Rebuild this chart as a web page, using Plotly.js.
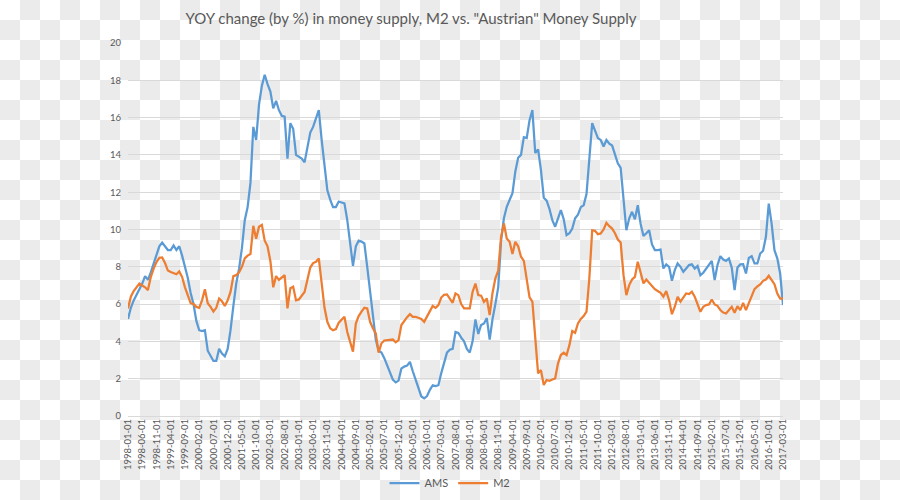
<!DOCTYPE html>
<html>
<head>
<meta charset="utf-8">
<script src="https://cdn.plot.ly/plotly-3.0.1.min.js"></script>
<style>
  html, body { margin: 0; padding: 0; }
  body {
    width: 900px; height: 500px;
    background-color: #ffffff;
    background-image: conic-gradient(#ebebeb 0deg 90deg, #ffffff 90deg 180deg, #ebebeb 180deg 270deg, #ffffff 270deg 360deg);
    background-size: 40px 40px;
    background-position: 0 0;
  }
  #chart { width: 900px; height: 500px; }
</style>
</head>
<body>
<div id="chart"></div>
<script>
// Monthly categories from 1998-01 to 2017-03
const startYear = 1998, startMonth = 1, monthCount = 231;
const tickStep = 5;

const ams = [
  5.2, 5.8, 6.2, 6.5, 6.8, 7.1, 7.5, 7.3, 7.7, 8.2,
  8.7, 9.1, 9.3, 9.1, 8.9, 8.9, 9.15, 8.9, 9.1, 8.6,
  8.0, 7.4, 6.6, 6.0, 5.1, 4.6, 4.55, 4.6, 3.5, 3.2,
  2.95, 2.95, 3.6, 3.35, 3.2, 3.6, 4.6, 5.9, 7.1, 7.9,
  9.0, 10.5, 11.2, 12.5, 15.5, 14.8, 16.7, 17.7, 18.3, 17.8,
  17.4, 16.5, 16.9, 16.4, 16.1, 16.05, 13.8, 15.7, 15.4, 14.0,
  13.9, 13.8, 13.6, 14.4, 15.2, 15.5, 15.95, 16.4, 14.8, 13.3,
  12.1, 11.6, 11.2, 11.2, 11.5, 11.45, 11.4, 10.5, 9.3, 8.05,
  9.1, 9.4, 9.35, 9.25, 8.0, 6.8, 5.3, 4.1, 3.5, 3.4,
  3.1, 2.7, 2.4, 1.95, 1.8, 1.9, 2.55, 2.65, 2.7, 2.9,
  2.4, 1.95, 1.5, 1.05, 0.95, 1.07, 1.4, 1.65, 1.6, 1.65,
  2.3, 2.9, 3.4, 3.55, 3.6, 4.5, 4.45, 4.2, 4.0, 3.6,
  3.4, 4.0, 5.18, 4.4, 4.88, 4.96, 5.25, 4.1, 5.2, 6.0,
  6.9, 9.4, 10.6, 11.22, 11.6, 11.95, 13.1, 13.85, 14.0, 14.95,
  14.9, 15.86, 16.4, 14.1, 14.3, 13.2, 11.7, 11.55, 11.1, 10.5,
  10.15, 10.6, 11.04, 10.55, 9.7, 9.8, 10.05, 10.6, 10.8, 11.2,
  11.3, 11.9, 14.0, 15.7, 15.3, 14.9, 14.8, 14.45, 14.8, 14.6,
  14.5, 14.0, 13.55, 13.3, 11.4, 9.96, 10.6, 10.95, 10.55, 11.3,
  10.3, 9.65, 9.8, 9.96, 9.2, 8.9, 8.9, 8.93, 7.91, 8.13,
  8.0, 7.25, 7.82, 8.18, 8.0, 7.73, 7.91, 8.09, 8.13, 7.91,
  8.04, 7.55, 7.68, 7.91, 8.1, 8.32, 7.29, 8.09, 8.57, 8.39,
  8.32, 8.45, 7.96, 6.75, 7.96, 8.13, 8.14, 7.64, 8.48, 8.57,
  8.18, 8.18, 8.71, 8.86, 9.61, 11.39, 10.32, 8.89, 8.45, 7.64,
  5.95
];

const m2 = [
  5.77, 6.4, 6.7, 6.9, 7.1, 7.0, 6.9, 6.75, 7.45, 7.9,
  8.25, 8.48, 8.5, 8.2, 7.8, 7.72, 7.65, 7.6, 7.75, 7.45,
  6.9, 6.5, 6.05, 6.0, 5.85, 5.8, 6.2, 6.8, 6.05, 5.85,
  5.6, 5.8, 6.3, 6.15, 5.9, 6.2, 6.65, 7.5, 7.55, 7.7,
  8.0, 8.45, 8.6, 8.68, 10.2, 9.5, 10.15, 10.25, 9.4, 9.1,
  8.3, 6.9, 7.5, 7.3, 7.45, 7.55, 5.77, 6.85, 6.93, 6.2,
  6.25, 6.43, 6.65, 7.3, 7.96, 8.2, 8.27, 8.45, 7.1, 5.8,
  5.05, 4.7, 4.6, 4.66, 5.0, 5.15, 5.32, 4.5, 4.0, 3.45,
  4.96, 5.36, 5.6, 5.8, 5.77, 5.05, 4.7, 4.43, 3.4, 3.9,
  4.05, 4.07, 4.07, 4.1, 3.95, 4.07, 4.88, 5.1, 5.3, 5.46,
  5.32, 5.32, 5.28, 5.2, 5.05, 5.32, 5.6, 5.9, 5.8, 5.95,
  6.35, 6.5, 6.52, 6.3, 6.07, 6.57, 6.48, 6.0, 5.77, 5.77,
  5.77, 6.66, 7.1, 6.48, 6.45, 6.12, 6.3, 5.41, 6.6, 7.38,
  7.79, 9.6, 10.32, 9.52, 9.34, 8.68, 9.34, 9.1, 8.54, 8.32,
  7.38, 6.36, 6.13, 4.07, 2.29, 2.46, 1.66, 1.93, 1.89, 1.96,
  2.02, 2.82, 3.27, 3.39, 3.27, 3.8, 4.55, 4.46, 4.96, 5.2,
  5.36, 5.6, 7.4, 9.96, 9.93, 9.75, 9.79, 10.0, 10.36, 10.18,
  10.05, 9.8, 9.46, 9.3, 7.55, 6.48, 7.02, 7.32, 7.46, 8.27,
  7.73, 7.11, 7.32, 7.14, 7.02, 6.8, 6.7, 6.6, 6.4, 6.7,
  6.21, 5.46, 5.86, 6.39, 6.13, 6.34, 6.57, 6.54, 6.66, 6.4,
  6.04, 5.59, 5.86, 5.95, 5.98, 6.25, 5.98, 5.91, 5.68, 5.55,
  5.5, 5.71, 5.86, 5.54, 5.89, 5.68, 6.07, 5.68, 6.07, 6.4,
  6.8, 6.95, 7.05, 7.25, 7.32, 7.52, 7.29, 7.07, 6.57, 6.3,
  6.3
];

const categories = [];
for (let k = 0; k < monthCount; k++) {
  const mIdx = (startMonth - 1) + k;
  const y = startYear + Math.floor(mIdx / 12);
  const m = (mIdx % 12) + 1;
  categories.push(y + '-' + String(m).padStart(2, '0') + '-01');
}
const tickLabels = categories.filter((c, k) => k % tickStep === 0);

const FONT = 'Lato, "Open Sans", sans-serif';
const TXT = '#595959';

const traces = [
  { x: categories, y: ams, type: 'scatter', mode: 'lines', name: 'AMS',
    line: { color: '#5b9bd5', width: 2.25 } },
  { x: categories, y: m2, type: 'scatter', mode: 'lines', name: 'M2',
    line: { color: '#ed7d31', width: 2.25 } }
];

const layout = {
  width: 900, height: 500,
  paper_bgcolor: 'rgba(0,0,0,0)',
  plot_bgcolor: 'rgba(0,0,0,0)',
  margin: { l: 128, r: 117, t: 43, b: 84 },
  font: { family: FONT, color: TXT },
  title: {
    text: 'YOY change (by %) in money supply, M2 vs. "Austrian" Money Supply',
    font: { family: FONT, size: 15, color: TXT },
    xref: 'container', x: 411 / 900, xanchor: 'center',
    yref: 'container', y: 1 - 19 / 500, yanchor: 'middle'
  },
  xaxis: {
    type: 'category',
    range: [0, monthCount - 1],
    tickmode: 'array',
    tickvals: tickLabels,
    ticktext: tickLabels,
    tickangle: -90,
    tickfont: { family: FONT, size: 9.5, color: TXT },
    showgrid: false, showline: false, zeroline: false, ticks: ''
  },
  yaxis: {
    range: [0, 20],
    tickmode: 'linear', tick0: 0, dtick: 2,
    tickfont: { family: FONT, size: 9.5, color: TXT },
    showgrid: true, gridcolor: '#d9d9d9', gridwidth: 1,
    zeroline: true, zerolinecolor: '#d9d9d9', zerolinewidth: 1,
    showline: false, ticks: '', ticklabelstandoff: 6
  },
  showlegend: true,
  legend: {
    orientation: 'h',
    xref: 'container', x: 0.5, xanchor: 'center',
    yref: 'container', y: 1 - 483 / 500, yanchor: 'middle',
    font: { family: FONT, size: 11, color: TXT },
    bgcolor: 'rgba(0,0,0,0)'
  }
};

Plotly.newPlot('chart', traces, layout, { displayModeBar: false, staticPlot: true });
</script>
</body>
</html>
